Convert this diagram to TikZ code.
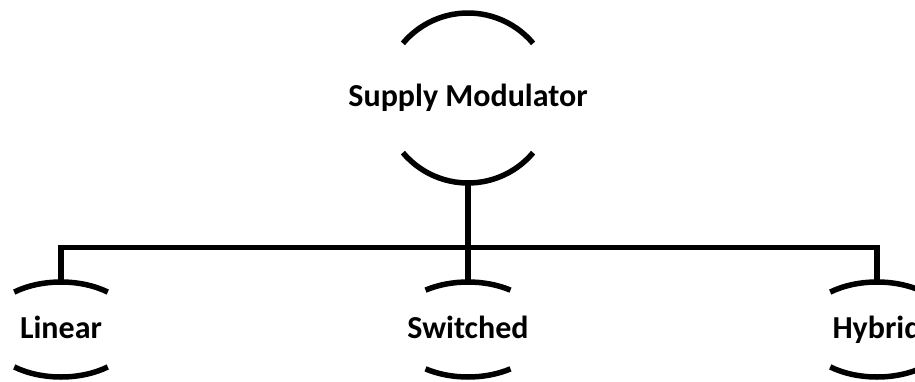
\documentclass[tikz,border=0pt]{standalone}
\usepackage{fontspec}
\setmainfont{Carlito}
\usepackage{tikz}
\usetikzlibrary{calc,positioning}

\tikzset{
  lbl/.style={rectangle, inner sep=0pt, outer sep=0pt, text height=23pt, text depth=6pt,
    font=\fontsize{32}{36}\selectfont\bfseries},
  topbox/.style={lbl, minimum height=170pt},
  leafbox/.style={lbl, minimum height=95pt}
}

\begin{document}
\begin{tikzpicture}[x=1pt,y=1pt,line width=5.5pt]
        \useasboundingbox (0,0) rectangle (915,381);

        % top node, circle r = 85
        \node[topbox] (sm) at (468,283) {Supply Modulator};

        % leaves, ellipse 76 x 47.5
        \node[leafbox] (li) at (61,51.5) {Linear};
        \node[leafbox] (sw) at (468,51.5) {Switched};
        \node[leafbox] (hy) at (877,51.5) {Hybrid};

        % arcs of the top circle
        \draw ([shift={(40:85)}]sm.center) arc[start angle=40, end angle=140, radius=85];
        \draw ([shift={(220:85)}]sm.center) arc[start angle=220, end angle=320, radius=85];

        % arcs of the leaves
        \foreach \n/\a in {li/52, sw/56, hy/52} {
            \draw ([shift={(\a:76 and 47.5)}]\n.center)
                arc[start angle=\a, end angle=180-\a, x radius=76, y radius=47.5];
            \draw ([shift={(180+\a:76 and 47.5)}]\n.center)
                arc[start angle=180+\a, end angle=360-\a, x radius=76, y radius=47.5];
        }

        % connectors
        \coordinate (bus) at (468,133.5);
        \draw (sm.south) -- (sw.north);
        \draw (li.north) |- (bus) -| (hy.north);
    \end{tikzpicture}
\end{document}
